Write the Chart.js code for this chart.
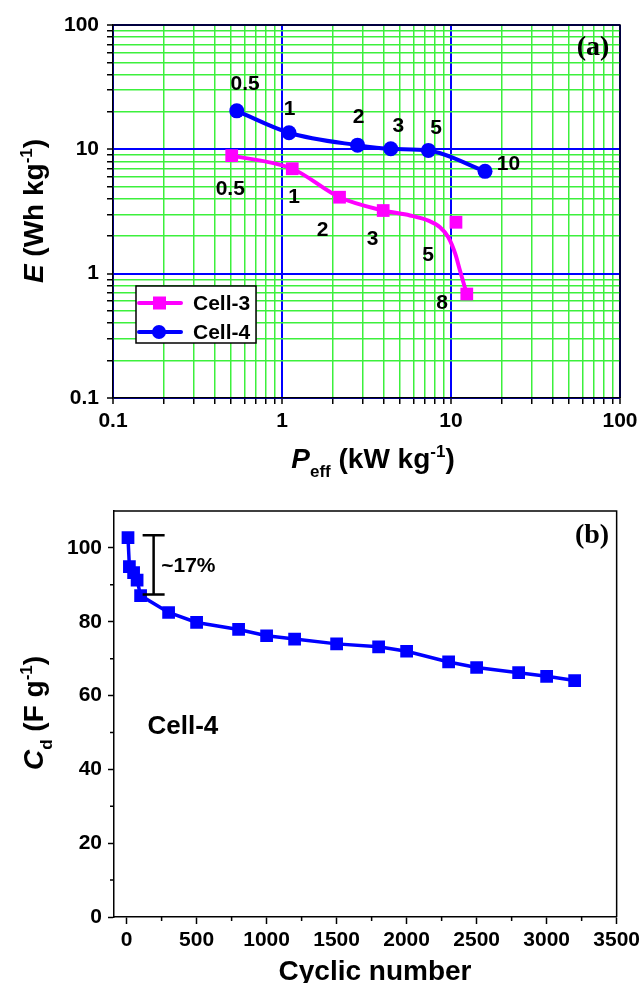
<!DOCTYPE html>
<html>
<head>
<meta charset="utf-8">
<script src="https://cdn.jsdelivr.net/npm/chart.js@4.4.1/dist/chart.umd.min.js"></script>
<style>
  body { margin: 0; background: #fff; }
  canvas { display: block; }
</style>
</head>
<body>
<canvas id="ragone" width="644" height="480"></canvas>
<canvas id="cycle" width="644" height="503"></canvas>
<script>
const FONT = "'Liberation Sans', Arial, sans-serif";
const SERIF = "'Liberation Serif', 'Times New Roman', serif";

// (a) Ragone plot, [P kW/kg, E Wh/kg]
const cell3 = [[0.504, 8.9], [1.15, 6.98], [2.19, 4.12], [3.97, 3.22], [10.7, 2.59], [12.4, 0.686]];
const cell3Fit = [[0.504, 8.9], [1.15, 6.98], [2.19, 4.12], [3.97, 3.22], [5.72, 2.94], [7.35, 2.67],
                  [8.61, 2.36], [9.64, 1.96], [10.6, 1.44], [11.3, 1.06], [12.4, 0.686]];
const cell4 = [[0.54, 20.4], [1.10, 13.6], [2.80, 10.8], [4.40, 10.1], [7.35, 9.8], [15.9, 6.65]];
const cell4Labels = [['0.5', 0.605, 33.4], ['1', 1.11, 21], ['2', 2.84, 18.1], ['3', 4.88, 15.3], ['5', 8.16, 14.8], ['10', 21.9, 7.57]];
const cell3Labels = [['0.5', 0.494, 4.75], ['1', 1.18, 4.1], ['2', 1.74, 2.22], ['3', 3.43, 1.91], ['5', 7.33, 1.42], ['8', 8.85, 0.58]];
const logTicks = [0.1, 0.2, 0.3, 0.4, 0.5, 0.6, 0.7, 0.8, 0.9, 1, 2, 3, 4, 5, 6, 7, 8, 9,
                  10, 20, 30, 40, 50, 60, 70, 80, 90, 100];
const decadeLabels = ['0.1', '1', '10', '100'];

// (b) cycling
const cycles = [10, 20, 50, 75, 100, 300, 500, 800, 1000, 1200, 1500, 1800, 2000, 2300, 2500, 2800, 3000, 3200];
const capacitance = [102.8, 94.9, 93.3, 91.3, 87.1, 82.5, 79.8, 77.9, 76.2, 75.3, 74.0, 73.2, 72.0, 69.1, 67.6, 66.2, 65.2, 64.05];
const xTicksB = [0, 500, 1000, 1500, 2000, 2500, 3000, 3500];
const xMinorB = [250, 750, 1250, 1750, 2250, 2750, 3250];
const yTicksB = [0, 20, 40, 60, 80, 100];
const yMinorB = [10, 30, 50, 70, 90];

Chart.defaults.color = '#000';
Chart.defaults.font.family = FONT;
Chart.defaults.font.weight = 'bold';

const isDecade = v => Math.abs(Math.log10(v) - Math.round(Math.log10(v))) < 1e-6;
const pts = arr => arr.map(p => ({x: p[0], y: p[1]}));

// draw text made of pieces (italic, sup, sub)
function drawRich(ctx, parts, x, y, size, rotate) {
  const fontOf = p => (p.i ? 'italic ' : '') + 'bold ' + ((p.sup || p.sub) ? Math.round(size * 0.6) : size) + 'px ' + FONT;
  let total = 0;
  parts.forEach(p => { ctx.font = fontOf(p); p.w = ctx.measureText(p.t).width; total += p.w; });
  ctx.save();
  ctx.translate(x, y);
  if (rotate) ctx.rotate(-Math.PI / 2);
  ctx.fillStyle = '#000';
  ctx.textAlign = 'left';
  ctx.textBaseline = 'alphabetic';
  let cx = -total / 2;
  parts.forEach(p => {
    ctx.font = fontOf(p);
    const dy = p.sup ? -size * 0.4 : (p.sub ? size * 0.33 : 0);
    ctx.fillText(p.t, cx, dy);
    cx += p.w;
  });
  ctx.restore();
}

const ragoneDecor = {
  id: 'ragoneDecor',
  afterDatasetsDraw(chart) {
    const {ctx, chartArea: a, scales: {x, y}} = chart;
    ctx.save();
    // frame top/right
    ctx.strokeStyle = '#000';
    ctx.lineWidth = 1.5;
    ctx.beginPath();
    ctx.moveTo(a.left, a.top); ctx.lineTo(a.right, a.top); ctx.lineTo(a.right, a.bottom);
    ctx.stroke();

    // point labels
    ctx.fillStyle = '#000';
    ctx.font = 'bold 21px ' + FONT;
    ctx.textAlign = 'center';
    ctx.textBaseline = 'middle';
    cell4Labels.concat(cell3Labels).forEach(l => {
      ctx.fillText(l[0], x.getPixelForValue(l[1]), y.getPixelForValue(l[2]));
    });

    // (a)
    ctx.font = 'bold 28px ' + SERIF;
    ctx.fillText('(a)', 593, 48);

    // legend
    ctx.fillStyle = '#fff';
    ctx.fillRect(136, 286, 120, 57);
    ctx.strokeStyle = '#000';
    ctx.lineWidth = 1.5;
    ctx.strokeRect(136, 286, 120, 57);
    const rows = [['Cell-3', '#ff00ff', 303, 'rect'], ['Cell-4', '#0000ff', 332, 'circle']];
    rows.forEach(r => {
      ctx.strokeStyle = r[1];
      ctx.fillStyle = r[1];
      ctx.lineWidth = 4;
      ctx.lineCap = 'round';
      ctx.beginPath(); ctx.moveTo(139, r[2]); ctx.lineTo(181, r[2]); ctx.stroke();
      if (r[3] === 'rect') ctx.fillRect(153, r[2] - 6.5, 13, 13);
      else { ctx.beginPath(); ctx.arc(159, r[2], 7, 0, Math.PI * 2); ctx.fill(); }
      ctx.fillStyle = '#000';
      ctx.font = 'bold 21px ' + FONT;
      ctx.textAlign = 'left';
      ctx.fillText(r[0], 193, r[2] + 1);
    });

    // axis titles
    drawRich(ctx, [{t: 'E', i: true}, {t: ' (Wh kg'}, {t: '-1', sup: true}, {t: ')'}], 43, 211, 28, true);
    drawRich(ctx, [{t: 'P', i: true}, {t: 'eff', sub: true}, {t: ' (kW kg'}, {t: '-1', sup: true}, {t: ')'}], 373, 468, 28, false);
    ctx.restore();
  }
};

const logAxis = (labelPad, fitKey, fitVal) => ({
  type: 'logarithmic',
  min: 0.1,
  max: 100,
  afterBuildTicks: s => { s.ticks = logTicks.map(v => ({value: v, major: isDecade(v)})); },
  afterFit: s => { s[fitKey] = fitVal; },
  ticks: {
    autoSkip: false,
    maxRotation: 0,
    padding: labelPad,
    font: {size: 21, weight: 'bold'},
    callback: v => isDecade(v) ? decadeLabels[Math.round(Math.log10(v)) + 1] : ''
  },
  grid: {
    color: c => (c.tick && isDecade(c.tick.value)) ? '#0000ff' : '#3cf03c',
    lineWidth: c => (c.tick && isDecade(c.tick.value)) ? 2 : 1.5,
    tickColor: '#000',
    tickLength: 6,
    tickWidth: 1.5
  },
  border: {color: '#000', width: 1.5}
});

new Chart(document.getElementById('ragone'), {
  type: 'scatter',
  data: {
    datasets: [
      {
        label: 'Cell-3',
        data: pts(cell3),
        showLine: false,
        pointStyle: 'rect',
        pointRadius: 9,
        backgroundColor: '#ff00ff',
        borderColor: '#ff00ff',
        borderWidth: 0,
        order: 0
      },
      {
        label: 'Cell-3 curve',
        data: pts(cell3Fit),
        showLine: true,
        pointRadius: 0,
        borderColor: '#ff00ff',
        borderWidth: 4,
        cubicInterpolationMode: 'monotone',
        order: 2
      },
      {
        label: 'Cell-4',
        data: pts(cell4),
        showLine: true,
        pointStyle: 'circle',
        pointRadius: 7.5,
        backgroundColor: '#0000ff',
        borderColor: '#0000ff',
        borderWidth: 4,
        pointBorderWidth: 0,
        cubicInterpolationMode: 'monotone',
        order: 1
      }
    ]
  },
  options: {
    responsive: false,
    animation: false,
    layout: {padding: {top: 25, right: 24, left: 0, bottom: 0}},
    plugins: {legend: {display: false}, tooltip: {enabled: false}},
    scales: {
      x: logAxis(5, 'height', 82),
      y: logAxis(8, 'width', 113)
    }
  },
  plugins: [ragoneDecor]
});

const cycleDecor = {
  id: 'cycleDecor',
  afterDatasetsDraw(chart) {
    const {ctx, chartArea: a, scales: {x, y}} = chart;
    ctx.save();
    ctx.strokeStyle = '#000';
    ctx.lineWidth = 1.5;
    ctx.beginPath();
    ctx.moveTo(a.left, a.top); ctx.lineTo(a.right, a.top); ctx.lineTo(a.right, a.bottom);
    ctx.stroke();
    // minor ticks
    ctx.beginPath();
    xMinorB.forEach(v => { const px = x.getPixelForValue(v); ctx.moveTo(px, a.bottom); ctx.lineTo(px, a.bottom + 4); });
    yMinorB.forEach(v => { const py = y.getPixelForValue(v); ctx.moveTo(a.left, py); ctx.lineTo(a.left - 4, py); });
    ctx.stroke();

    // ~17% bracket
    const bx = x.getPixelForValue(193), t = y.getPixelForValue(103.4), b = y.getPixelForValue(87.4);
    ctx.lineWidth = 2.5;
    ctx.beginPath();
    ctx.moveTo(bx, t); ctx.lineTo(bx, b);
    ctx.moveTo(bx - 11, t); ctx.lineTo(bx + 11, t);
    ctx.moveTo(bx - 11, b); ctx.lineTo(bx + 11, b);
    ctx.stroke();
    ctx.fillStyle = '#000';
    ctx.textAlign = 'left';
    ctx.textBaseline = 'middle';
    ctx.font = 'bold 21px ' + FONT;
    ctx.fillText('~17%', x.getPixelForValue(247), y.getPixelForValue(95.1));
    ctx.font = 'bold 26px ' + FONT;
    ctx.fillText('Cell-4', x.getPixelForValue(149), y.getPixelForValue(51.6));

    ctx.textAlign = 'center';
    ctx.font = 'bold 28px ' + SERIF;
    ctx.fillText('(b)', 592, 56);

    drawRich(ctx, [{t: 'C', i: true}, {t: 'd', sub: true}, {t: ' (F g'}, {t: '-1', sup: true}, {t: ')'}], 43, 233, 28, true);
    drawRich(ctx, [{t: 'Cyclic number'}], 375, 500, 28, false);
    ctx.restore();
  }
};

new Chart(document.getElementById('cycle'), {
  type: 'line',
  data: {
    labels: cycles,
    datasets: [{
      label: 'Cell-4',
      data: cycles.map((c, i) => ({x: c, y: capacitance[i]})),
      borderColor: '#0000ff',
      backgroundColor: '#0000ff',
      borderWidth: 3.5,
      pointStyle: 'rect',
      pointRadius: 9,
      pointBorderWidth: 0,
      tension: 0
    }]
  },
  options: {
    responsive: false,
    animation: false,
    layout: {padding: {top: 31, right: 26, left: 0, bottom: 0}},
    plugins: {legend: {display: false}, tooltip: {enabled: false}},
    scales: {
      x: {
        type: 'linear',
        min: -90,
        max: 3500,
        afterBuildTicks: s => { s.ticks = xTicksB.map(v => ({value: v})); },
        afterFit: s => { s.height = 66; },
        ticks: {autoSkip: false, maxRotation: 0, padding: 4, font: {size: 21, weight: 'bold'}, callback: v => String(v)},
        grid: {display: true, drawOnChartArea: false, tickColor: '#000', tickLength: 7, tickWidth: 1.5},
        border: {color: '#000', width: 1.5}
      },
      y: {
        min: 0,
        max: 110,
        afterBuildTicks: s => { s.ticks = yTicksB.map(v => ({value: v})); },
        afterFit: s => { s.width = 114; },
        ticks: {autoSkip: false, padding: 6, font: {size: 21, weight: 'bold'}, callback: v => String(v)},
        grid: {display: true, drawOnChartArea: false, tickColor: '#000', tickLength: 6, tickWidth: 1.5},
        border: {color: '#000', width: 1.5}
      }
    }
  },
  plugins: [cycleDecor]
});
</script>
</body>
</html>
